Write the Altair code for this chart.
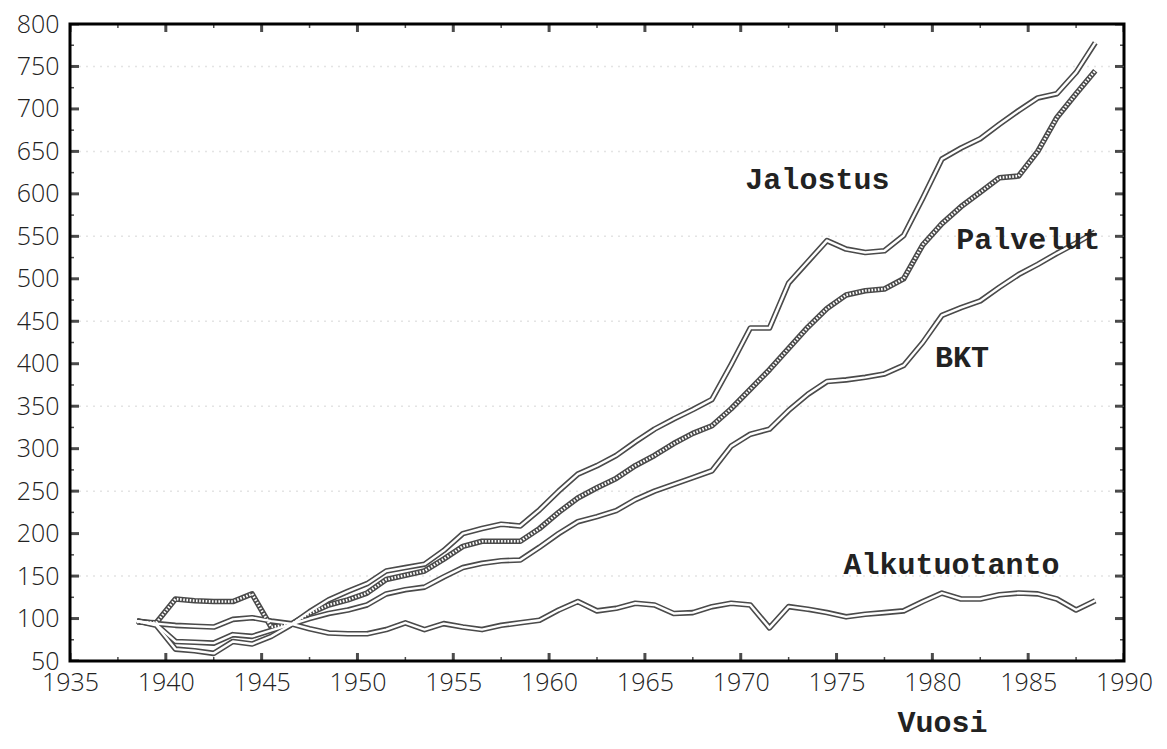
import altair as alt
import pandas as pd

# ---------------- data ----------------
years = list(range(1938, 1989))

jalostus = [97, 92, 64, 62, 59, 73, 70, 79, 92, 108,
            122, 132, 141, 156, 160, 164, 180, 200, 206, 211,
            209, 228, 250, 270, 280, 292, 308, 323, 335, 346,
            358, 399, 442, 442, 495, 520, 545, 535, 531, 533,
            551, 595, 641, 654, 665, 682, 698, 713, 718, 743,
            778]

palvelut = [96, 95, 123, 121, 120, 120, 129, 90, 93, 106,
            116, 122, 130, 146, 151, 156, 170, 185, 191, 191,
            191, 206, 225, 242, 254, 265, 280, 292, 306, 318,
            327, 347, 370, 393, 418, 443, 465, 481, 486, 488,
            500, 540, 565, 585, 602, 619, 621, 650, 690, 718,
            745]

bkt = [97, 93, 73, 72, 71, 81, 79, 86, 93, 100,
       106, 110, 116, 129, 134, 137, 149, 160, 165, 168,
       169, 184, 200, 214, 220, 227, 240, 250, 258, 266,
       274, 303, 317, 323, 345, 364, 379, 381, 384, 388,
       398, 425, 457, 466, 474, 490, 505, 517, 530, 542,
       555]

alkutuotanto = [97, 94, 92, 91, 90, 99, 101, 97, 94, 88,
                83, 82, 82, 87, 95, 87, 94, 90, 87, 92,
                95, 98, 110, 120, 109, 112, 118, 116, 106, 107,
                114, 118, 116, 89, 114, 111, 107, 102, 105, 107,
                109, 120, 130, 123, 123, 128, 130, 129, 123, 110,
                121]

series_names = ["Alkutuotanto", "BKT", "Jalostus", "Palvelut"]
series_values = [alkutuotanto, bkt, jalostus, palvelut]

label_text = ["Jalostus", "Palvelut", "BKT", "Alkutuotanto"]
label_x = [1974.0, 1985.0, 1981.55, 1981.0]
label_y = [606, 535, 396, 153]

x_ticks = list(range(1935, 1991, 5))
x_minor = [v + 2.5 for v in range(1935, 1990, 5)]
y_ticks = list(range(50, 801, 50))
y_minor = [v + 25 for v in range(50, 800, 50)]
grid_vals = [150, 250, 350, 450, 550, 650, 750]

# ---------------- tables ----------------
rows = []
for name, vals in zip(series_names, series_values):
    for yr, v in zip(years, vals):
        rows.append({"sarja": name, "vuosi": yr + 0.5, "arvo": v})  # plotted at mid-year
df = pd.DataFrame(rows)
labels = pd.DataFrame({"t": label_text, "x": label_x, "y": label_y})
df_xt = pd.DataFrame({"v": x_ticks})
df_xm = pd.DataFrame({"v": x_minor})
df_yt = pd.DataFrame({"v": y_ticks})
df_ym = pd.DataFrame({"v": y_minor})
df_grid = pd.DataFrame({"v": grid_vals})

xs = alt.Scale(domain=[1935, 1990], nice=False, zero=False)
ys = alt.Scale(domain=[50, 800], nice=False, zero=False)

LABEL_FONT = "Open Sans"

x_axis = alt.Axis(values=x_ticks, format="d", ticks=False, domain=False, grid=False,
                  labelFont=LABEL_FONT, labelFontSize=25, labelFontWeight=300,
                  labelColor="#222", labelPadding=9, labelFlush=False,
                  title="Vuosi", titleFont="Liberation Mono", titleFontWeight="bold",
                  titleFontSize=30, titleColor="#222", titleX=872, titleY=70,
                  titleAlign="center", titleBaseline="alphabetic")
y_axis = alt.Axis(values=y_ticks, ticks=False, domain=False, grid=False,
                  labelFont=LABEL_FONT, labelFontSize=25, labelFontWeight=300,
                  labelColor="#222", labelPadding=11, labelFlush=False, title=None)

X_ENC = dict(scale=xs, axis=x_axis)
Y_ENC = dict(scale=ys, axis=y_axis)

base = alt.Chart(df)

grid = alt.Chart(df_grid).mark_rule(color="#e4e4e4", strokeDash=[2, 5], strokeWidth=1.5).encode(
    y=alt.Y("v:Q", **Y_ENC)
)

dark = base.mark_line(color="#4a4a4a", strokeWidth=5.6, strokeJoin="round").encode(
    x=alt.X("vuosi:Q", **X_ENC),
    y=alt.Y("arvo:Q", **Y_ENC),
    detail="sarja:N",
)
white = base.transform_filter(alt.datum.sarja != "Palvelut").mark_line(
    color="white", strokeWidth=2.4, strokeJoin="round").encode(
    x=alt.X("vuosi:Q", **X_ENC),
    y=alt.Y("arvo:Q", **Y_ENC),
    detail="sarja:N",
)
checker = base.transform_filter(alt.datum.sarja == "Palvelut").mark_line(
    color="white", strokeWidth=2.6, strokeDash=[1.6, 1.6]).encode(
    x=alt.X("vuosi:Q", **X_ENC),
    y=alt.Y("arvo:Q", **Y_ENC),
    detail="sarja:N",
)

texts = alt.Chart(labels).mark_text(font="Liberation Mono", fontWeight="bold", fontSize=30,
                                    align="center", baseline="alphabetic", color="#222").encode(
    x=alt.X("x:Q", **X_ENC),
    y=alt.Y("y:Q", **Y_ENC),
    text="t:N",
)


def yticks(df_t, edge, size, thick):
    return alt.Chart(df_t).mark_tick(orient="horizontal", size=size, thickness=thick,
                                     color="black", clip=True).encode(
        y=alt.Y("v:Q", **Y_ENC),
        x=alt.XDatum(edge, **X_ENC),
    )


def xticks(df_t, edge, size, thick):
    return alt.Chart(df_t).mark_tick(orient="vertical", size=size, thickness=thick,
                                     color="black", clip=True).encode(
        x=alt.X("v:Q", **X_ENC),
        y=alt.YDatum(edge, **Y_ENC),
    )


tick_layers = [
    yticks(df_yt, 1935, 18, 3), yticks(df_ym, 1935, 8, 1.5),
    yticks(df_yt, 1990, 18, 3), yticks(df_ym, 1990, 8, 1.5),
    xticks(df_xt, 50, 16, 3), xticks(df_xm, 50, 8, 1.5),
    xticks(df_xt, 800, 16, 3), xticks(df_xm, 800, 8, 1.5),
]

chart = alt.layer(grid, dark, white, checker, texts, *tick_layers).properties(
    width=1054, height=637,
    autosize=alt.AutoSizeParams(type="none"),
    padding={"left": 62, "top": 16, "right": 35, "bottom": 80},
    background="white",
).configure_view(stroke="black", strokeWidth=3)

chart.save("out.html", embed_options={"renderer": "svg", "actions": False})
